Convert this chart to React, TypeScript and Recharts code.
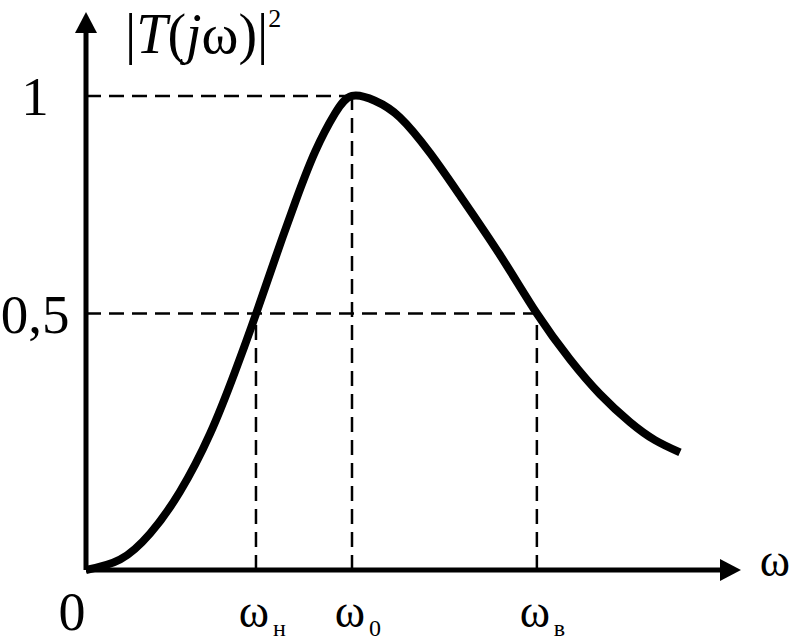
import React from 'react';
import { LineChart, Line, XAxis, YAxis, ReferenceLine, ReferenceDot } from 'recharts';

// angular frequency (relative to ω0) and |T(jω)|²
const OMEGA = [0, 0.128, 0.241, 0.353, 0.466, 0.56, 0.639, 0.711, 0.786, 0.861, 0.936, 1.0, 1.086, 1.18, 1.293, 1.406, 1.556, 1.695, 1.82, 1.932, 2.045, 2.139, 2.233];
const GAIN = [0, 0.022, 0.077, 0.165, 0.287, 0.418, 0.54, 0.657, 0.775, 0.882, 0.963, 1.0, 0.99, 0.955, 0.88, 0.79, 0.665, 0.541, 0.444, 0.371, 0.312, 0.274, 0.248];

const HALF = 0.541;
const W_LOW = 0.639;
const W_0 = 1;
const W_HIGH = 1.695;
const X_MAX = 2.4624;
const Y_MAX = 1.1772;

const X_TICKS = [0, W_LOW, W_0, W_HIGH];
const X_TICK_MAIN = ['0', 'ω', 'ω', 'ω'];
const X_TICK_SUB = ['', 'н', '0', 'в'];
const Y_TICKS = [HALF, 1];
const Y_TICK_LABELS = ['0,5', '1'];

const data = OMEGA.map((w, i) => ({ w, g: GAIN[i] }));

const FONT = '"Liberation Serif", "DejaVu Serif", serif';

const XTick = (props: any) => {
  const { x, y, index, payload } = props;
  const i = typeof index === 'number' ? index : X_TICKS.indexOf(payload?.value);
  const main = X_TICK_MAIN[i];
  const sub = X_TICK_SUB[i];
  if (!sub) {
    return (
      <text x={x - 14} y={y + 60} textAnchor="middle" fontFamily={FONT} fontSize={54} fill="#000">
        {main}
      </text>
    );
  }
  return (
    <g>
      <text x={x - 2} y={y + 57} textAnchor="middle" fontFamily={FONT} fontSize={46} fill="#000">
        {main}
      </text>
      <text x={x + 17} y={y + 66} textAnchor="start" fontFamily={FONT} fontSize={24} fill="#000">
        {sub}
      </text>
    </g>
  );
};

const YTick = (props: any) => {
  const { x, y, index, payload } = props;
  const i = typeof index === 'number' ? index : Y_TICKS.indexOf(payload?.value);
  return (
    <text x={x - 51} y={y + 19} textAnchor="middle" fontFamily={FONT} fontSize={55} fill="#000">
      {Y_TICK_LABELS[i]}
    </text>
  );
};

const YTitle = (props: any) => {
  const vb = props.viewBox || { x: 0, y: 12, width: 86 };
  const ax = vb.x + vb.width;
  return (
    <text x={ax + 39} y={vb.y + 41} fontFamily={FONT} fontSize={56} fill="#000">
      <tspan>|</tspan>
      <tspan fontStyle="italic">T</tspan>
      <tspan>(</tspan>
      <tspan fontStyle="italic">j</tspan>
      <tspan>ω)|</tspan>
      <tspan fontSize={26} dy={-26}>2</tspan>
    </text>
  );
};

const XTitle = (props: any) => {
  const vb = props.viewBox || { x: 86, y: 570, width: 655 };
  return (
    <text x={vb.x + vb.width + 34} y={vb.y + 6} textAnchor="middle" fontFamily={FONT} fontSize={46} fill="#000">
      ω
    </text>
  );
};

const RightArrow = (p: any) => (
  <polygon points={`${p.cx},${p.cy} ${p.cx - 21},${p.cy - 11} ${p.cx - 21},${p.cy + 11}`} fill="#000" />
);
const UpArrow = (p: any) => (
  <polygon points={`${p.cx},${p.cy} ${p.cx - 11},${p.cy + 21} ${p.cx + 11},${p.cy + 21}`} fill="#000" />
);

const DASH = '15 8';

export default function App() {
  return (
    <div style={{ position: 'absolute', left: 0, top: 0, background: '#fff' }}>
      <LineChart width={795} height={642} data={data} margin={{ top: 12, right: 54, bottom: 0, left: 0 }}>
        <XAxis
          dataKey="w"
          type="number"
          domain={[0, X_MAX]}
          ticks={X_TICKS}
          interval={0}
          height={72}
          axisLine={false}
          tickLine={false}
          tickSize={0}
          tickMargin={0}
          tick={<XTick />}
          label={{ content: <XTitle /> } as any}
        />
        <YAxis
          type="number"
          domain={[0, Y_MAX]}
          ticks={Y_TICKS}
          interval={0}
          width={86}
          axisLine={false}
          tickLine={false}
          tickSize={0}
          tickMargin={0}
          tick={<YTick />}
          label={{ content: <YTitle /> } as any}
        />
        <ReferenceLine segment={[{ x: 0, y: 1 }, { x: W_0, y: 1 }]} stroke="#000" strokeWidth={2.5} strokeDasharray={DASH} />
        <ReferenceLine segment={[{ x: W_0, y: 0 }, { x: W_0, y: 1 }]} stroke="#000" strokeWidth={2.5} strokeDasharray={DASH} />
        <ReferenceLine segment={[{ x: 0, y: HALF }, { x: W_HIGH, y: HALF }]} stroke="#000" strokeWidth={2.5} strokeDasharray={DASH} />
        <ReferenceLine segment={[{ x: W_LOW, y: 0 }, { x: W_LOW, y: HALF }]} stroke="#000" strokeWidth={2.5} strokeDasharray={DASH} />
        <ReferenceLine segment={[{ x: W_HIGH, y: 0 }, { x: W_HIGH, y: HALF }]} stroke="#000" strokeWidth={2.5} strokeDasharray={DASH} />
        <ReferenceLine segment={[{ x: 0, y: 0 }, { x: X_MAX - 0.06, y: 0 }]} stroke="#000" strokeWidth={5} ifOverflow="visible" />
        <ReferenceLine segment={[{ x: 0, y: 0 }, { x: 0, y: Y_MAX - 0.035 }]} stroke="#000" strokeWidth={5} ifOverflow="visible" />
        <ReferenceDot x={X_MAX} y={0} ifOverflow="visible" shape={RightArrow} />
        <ReferenceDot x={0} y={Y_MAX} ifOverflow="visible" shape={UpArrow} />
        <Line type="natural" dataKey="g" stroke="#000" strokeWidth={8} dot={false} isAnimationActive={false} />
      </LineChart>
    </div>
  );
}
